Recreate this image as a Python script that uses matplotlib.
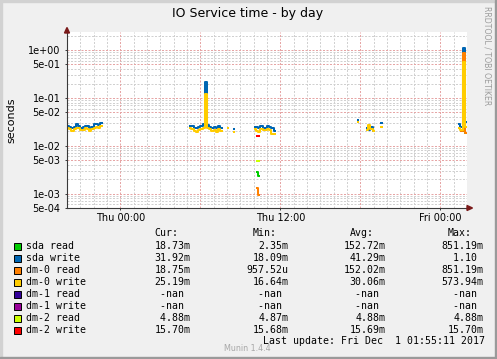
import matplotlib
matplotlib.use("Agg")
import numpy as np
import matplotlib.pyplot as plt
from matplotlib.patches import Rectangle, Polygon

# --- constants -----------------------------------------------------------

W, H = 497, 359
DPI = 100
STEP = 1 / 6          # one sample = 10 min, in hours

BACK = "#F0F0F0"
MAJOR_GRID = "#E6A5A5"
MINOR_GRID = "#D0D0D0"
AXIS = "#3A3A3A"
ARROW = "#7A1A1A"
MONO = "DejaVu Sans Mono"

# x axis in hours since Thu 00:00
X_MIN, X_MAX = -4.0, 26.0
X_TICKS = [0, 12, 24]
X_LABELS = ["Thu 00:00", "Thu 12:00", "Fri 00:00"]

Y_MIN, Y_MAX = 5e-4, 2.39
Y_TICKS = [1e0, 5e-1, 1e-1, 5e-2, 1e-2, 5e-3, 1e-3, 5e-4]
Y_LABELS = ["1e+00", "5e-01", "1e-01", "5e-02", "1e-02", "5e-03", "1e-03", "5e-04"]

# each series: list of (start hour, samples)
SDA_READ = [(10.167, [2.79e-3, 2.35e-3]),
            (25.5, [2.0e-2, 0.8512, 1.873e-2])]
SDA_WRITE = [(-4.0, [2.6e-2, 2.5e-2, 2.4e-2, 2.5e-2, 2.8e-2, 2.6e-2, 2.4e-2, 2.5e-2,
                     2.6e-2, 2.6e-2, 2.3e-2, 2.5e-2, 2.8e-2, 2.9e-2, 2.7e-2, 3.0e-2]),
             (5.167, [2.6e-2, 2.6e-2, 2.4e-2, 2.3e-2, 2.5e-2, 2.6e-2, 2.8e-2, 0.22,
                      2.7e-2, 2.5e-2, 2.4e-2, 2.5e-2, 2.3e-2, 2.6e-2, 2.3e-2]),
             (8.417, [2.2e-2]),
             (10.0, [2.5e-2, 2.5e-2, 2.3e-2, 2.6e-2, 2.4e-2, 2.4e-2, 2.6e-2, 2.5e-2,
                     2.3e-2, 2.0e-2]),
             (17.75, [3.4e-2]),
             (18.417, [2.3e-2, 2.1e-2, 2.5e-2, 2.0e-2]),
             (19.5, [3.0e-2]),
             (25.333, [2.9e-2, 2.5e-2, 1.10, 3.192e-2])]
DM0_READ = [(10.167, [1.3e-3, 9.5752e-4]),
            (25.5, [2.0e-2, 0.8512, 1.875e-2])]
DM0_WRITE = [(-4.0, [2.3e-2, 2.2e-2, 2.0e-2, 2.2e-2, 2.4e-2, 2.3e-2, 2.1e-2, 2.1e-2,
                     2.3e-2, 2.2e-2, 2.0e-2, 2.2e-2, 2.4e-2, 2.5e-2, 2.4e-2, 2.6e-2]),
             (5.167, [2.3e-2, 2.2e-2, 2.0e-2, 1.9e-2, 2.1e-2, 2.2e-2, 2.4e-2, 0.12,
                      2.3e-2, 2.2e-2, 2.0e-2, 2.1e-2, 1.9e-2, 2.2e-2, 2.0e-2]),
             (8.0, [2.4e-2]),
             (8.417, [1.9e-2]),
             (10.0, [2.2e-2, 2.0e-2, 1.9e-2, 2.2e-2, 2.1e-2, 2.1e-2, 2.2e-2, 2.1e-2,
                     1.8e-2, 1.8e-2]),
             (17.75, [3.1e-2]),
             (18.417, [2.1e-2, 2.7e-2, 2.2e-2, 2.0e-2]),
             (19.5, [2.5e-2]),
             (25.333, [2.3e-2, 2.1e-2, 0.5739, 2.519e-2])]
DM1_READ = []
DM1_WRITE = []
DM2_READ = [(10.167, [4.88e-3, 4.87e-3])]
DM2_WRITE = [(10.167, [1.568e-2, 1.570e-2])]

NAMES = ["sda read", "sda write", "dm-0 read", "dm-0 write",
         "dm-1 read", "dm-1 write", "dm-2 read", "dm-2 write"]
COLORS = ["#00CC00", "#0066B3", "#FF8000", "#FFCC00",
          "#330099", "#990099", "#CCFF00", "#FF0000"]
SERIES = [SDA_READ, SDA_WRITE, DM0_READ, DM0_WRITE,
          DM1_READ, DM1_WRITE, DM2_READ, DM2_WRITE]

CUR = ["18.73m", "31.92m", "18.75m", "25.19m", "-nan ", "-nan ", " 4.88m", "15.70m"]
MIN = ["2.35m", "18.09m", "957.52u", "16.64m", "-nan ", "-nan ", "4.87m", "15.68m"]
AVG = ["152.72m", "41.29m", "152.02m", "30.06m", "-nan ", "-nan ", "4.88m", "15.69m"]
MAX = ["851.19m", "1.10 ", "851.19m", "573.94m", "-nan ", "-nan ", "4.88m", "15.70m"]
HEADERS = ["Cur:", "Min:", "Avg:", "Max:"]
LAST_UPDATE = "Last update: Fri Dec  1 01:55:11 2017"


# --- helpers -------------------------------------------------------------

def fx(x):
    return x / W


def fy(y):
    return 1 - y / H


def ftext(fig, x, y, s, **kw):
    kw.setdefault("va", "center")
    fig.text(fx(x), fy(y), s, **kw)


# --- figure --------------------------------------------------------------

fig = plt.figure(figsize=(W / DPI, H / DPI), dpi=DPI, facecolor=BACK)

# 3d-ish border
fig.patches.append(Rectangle((0, fy(2)), 1, 2 / H, transform=fig.transFigure,
                             color="#D2D2D2", zorder=0))
fig.patches.append(Rectangle((0, 0), 2 / W, 1, transform=fig.transFigure,
                             color="#D2D2D2", zorder=0))
fig.patches.append(Rectangle((0, 0), 1, 2 / H, transform=fig.transFigure,
                             color="#9A9A9A", zorder=0))
fig.patches.append(Rectangle((fx(W - 2), 0), 2 / W, 1, transform=fig.transFigure,
                             color="#9A9A9A", zorder=0))

ax = fig.add_axes([fx(67), fy(208), 400 / W, 176 / H])
ax.set_facecolor("white")
ax.set_yscale("log")
ax.set_xlim(X_MIN, X_MAX)
ax.set_ylim(Y_MIN, Y_MAX)

# grid: red every 6 h / at 1 and 5, grey every hour / other multiples
dots = (0, (2, 1.5))
for h in range(int(X_MIN) + 1, int(X_MAX)):
    major = h % 6 == 0
    ax.axvline(h, color=MAJOR_GRID if major else MINOR_GRID, lw=0.72,
               ls=dots, zorder=0.5 if major else 0.4)
for k in range(-4, 1):
    for m in range(1, 10):
        v = m * 10.0 ** k
        if Y_MIN < v < Y_MAX:
            major = m in (1, 5)
            ax.axhline(v, color=MAJOR_GRID if major else MINOR_GRID, lw=0.72,
                       ls=dots, zorder=0.5 if major else 0.4)

# data lines, drawn in legend order
for chunks, color in zip(SERIES, COLORS):
    for start, vals in chunks:
        t = start + np.arange(len(vals) + 1) * STEP
        v = list(vals) + [vals[-1]]
        ax.plot(t, v, drawstyle="steps-post", color=color, lw=1.45,
                solid_capstyle="butt", zorder=2)

ax.set_xticks(X_TICKS)
ax.set_xticklabels(X_LABELS)
ax.set_yticks(Y_TICKS)
ax.set_yticklabels(Y_LABELS)
ax.yaxis.set_minor_locator(matplotlib.ticker.NullLocator())
ax.tick_params(axis="both", labelsize=7, length=1.5, width=0.7, color=AXIS)
ax.tick_params(axis="y", pad=3.2)
ax.tick_params(axis="x", pad=1.8)
for side in ("top", "right"):
    ax.spines[side].set_visible(False)
for side in ("left", "bottom"):
    ax.spines[side].set_color(AXIS)
    ax.spines[side].set_linewidth(0.8)

# axis arrows
fig.patches.append(Polygon([(fx(467), fy(205.5)), (fx(472.5), fy(208)), (fx(467), fy(210.5))],
                           closed=True, transform=fig.transFigure, color=ARROW, zorder=5))
fig.patches.append(Polygon([(fx(64.5), fy(33)), (fx(67), fy(27.5)), (fx(69.5), fy(33))],
                           closed=True, transform=fig.transFigure, color=ARROW, zorder=5))

# title, labels
ftext(fig, 248, 13.5, "IO Service time - by day", fontsize=9, ha="center")
ftext(fig, 11, 120, "seconds", fontsize=8, ha="center", rotation=90)
ftext(fig, 487, 56, "RRDTOOL / TOBI OETIKER", fontsize=5.6, ha="center",
      rotation=270, color="#9C9C9C")

# legend table
CW = 5.94            # monospace char advance in px
COL_RIGHT = [190, 288, 385, 483]
ROW0, ROW_H = 246, 12
for col, head in zip(COL_RIGHT, HEADERS):
    ftext(fig, col - 6 * CW, 233, head, family=MONO, fontsize=7.1)
for i, (name, color) in enumerate(zip(NAMES, COLORS)):
    y = ROW0 + i * ROW_H
    fig.patches.append(Rectangle((fx(13.5), fy(y + 3.5)), 7 / W, 7 / H,
                                 transform=fig.transFigure, facecolor=color,
                                 edgecolor="black", lw=0.7, zorder=3))
    ftext(fig, 26.5, y, name, family=MONO, fontsize=7.1)
    for col, vals in zip(COL_RIGHT, (CUR, MIN, AVG, MAX)):
        s = vals[i]
        ftext(fig, col - len(s) * CW, y, s, family=MONO, fontsize=7.1)

ftext(fig, 483 - len(LAST_UPDATE) * CW, 341.5, LAST_UPDATE, family=MONO, fontsize=7.1)
ftext(fig, 224, 348.5, "Munin 1.4.4", fontsize=5.8, color="#A8A8A8")

fig.savefig("out.png", dpi=DPI, facecolor=BACK)
